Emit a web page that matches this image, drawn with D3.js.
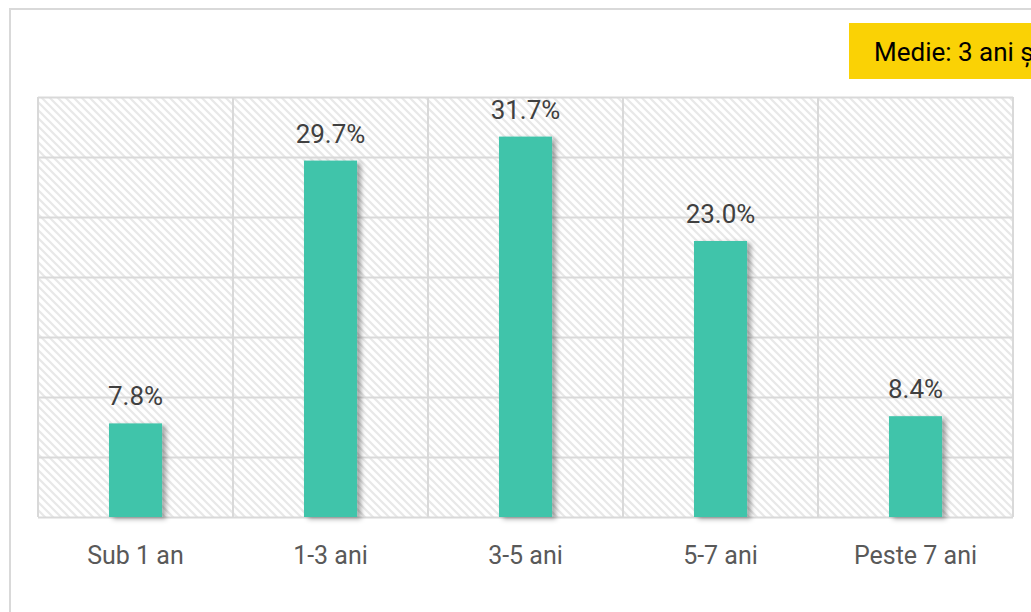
<!DOCTYPE html>
<html lang="ro">
<head>
<meta charset="UTF-8">
<title>Vechime</title>
<script src="https://d3js.org/d3.v7.min.js"></script>
<style>
  body { margin: 0; padding: 0; background: #ffffff; overflow: hidden; }
  svg { display: block; font-family: Roboto, 'Noto Sans', sans-serif; }
</style>
</head>
<body>
<svg id="chart" width="1031" height="612"></svg>
<script>
// data
const categories = ["Sub 1 an", "1-3 ani", "3-5 ani", "5-7 ani", "Peste 7 ani"];
const values = [7.8, 29.7, 31.7, 23.0, 8.4];
const yTicks = [0, 5, 10, 15, 20, 25, 30, 35];
const noteText = "Medie: 3 ani și";

const svg = d3.select("#chart");
const W = +svg.attr("width"), H = +svg.attr("height");
const plot = { left: 38, right: 1013, top: 97, bottom: 517 };

const defs = svg.append("defs");

// light diagonal hatch
const pat = defs.append("pattern")
  .attr("id", "hatch")
  .attr("patternUnits", "userSpaceOnUse")
  .attr("width", 8).attr("height", 8);
pat.append("rect").attr("width", 8).attr("height", 8).attr("fill", "#ffffff");
pat.append("path")
  .attr("d", "M-2,-2 L10,10 M-2,6 L2,10 M6,-2 L10,2")
  .attr("stroke", "#e8e8e8")
  .attr("stroke-width", 2.2);

const shadow = defs.append("filter")
  .attr("id", "shadow")
  .attr("x", "-20%").attr("y", "-10%")
  .attr("width", "150%").attr("height", "130%");
shadow.append("feDropShadow")
  .attr("dx", 4).attr("dy", 2)
  .attr("stdDeviation", 2.5)
  .attr("flood-color", "#000")
  .attr("flood-opacity", 0.35);

// outer frame
svg.append("rect")
  .attr("x", 10).attr("y", 9)
  .attr("width", W + 20).attr("height", H + 20)
  .attr("fill", "#ffffff")
  .attr("stroke", "#d9d9d9")
  .attr("stroke-width", 2);

const x = d3.scaleBand()
  .domain(categories)
  .range([plot.left, plot.right])
  .paddingInner(0).paddingOuter(0);

const y = d3.scaleLinear()
  .domain([0, d3.max(yTicks)])
  .range([plot.bottom, plot.top]);

// plot background
svg.append("rect")
  .attr("x", plot.left).attr("y", plot.top)
  .attr("width", plot.right - plot.left)
  .attr("height", plot.bottom - plot.top)
  .attr("fill", "url(#hatch)");

// horizontal gridlines
svg.append("g")
  .attr("transform", "translate(" + plot.left + ",0)")
  .call(d3.axisLeft(y).tickValues(yTicks).tickSize(-(plot.right - plot.left)).tickFormat(""))
  .call(g => g.select(".domain").remove())
  .call(g => g.selectAll("line").attr("stroke", "#d9d9d9").attr("stroke-width", 2));

// vertical gridlines at category boundaries
const bounds = categories.map(c => x(c)).concat([plot.right]);
svg.append("g")
  .selectAll("line")
  .data(bounds)
  .enter().append("line")
  .attr("x1", d => d).attr("x2", d => d)
  .attr("y1", plot.top).attr("y2", plot.bottom)
  .attr("stroke", "#d9d9d9")
  .attr("stroke-width", 2);

// bars
const barW = x.bandwidth() * 0.272;
svg.append("g")
  .selectAll("rect")
  .data(values)
  .enter().append("rect")
  .attr("x", (d, i) => x(categories[i]) + x.bandwidth() / 2 - barW / 2)
  .attr("y", d => y(d))
  .attr("width", barW)
  .attr("height", d => y(0) - y(d))
  .attr("fill", "#3fc4aa")
  .attr("filter", "url(#shadow)");

// data labels
svg.append("g")
  .selectAll("text")
  .data(values)
  .enter().append("text")
  .attr("x", (d, i) => x(categories[i]) + x.bandwidth() / 2)
  .attr("y", d => y(d) - 18)
  .attr("text-anchor", "middle")
  .attr("fill", "#404040")
  .style("font-size", "26px")
  .text(d => d.toFixed(1) + "%");

// category labels
svg.append("g")
  .selectAll("text")
  .data(categories)
  .enter().append("text")
  .attr("x", d => x(d) + x.bandwidth() / 2)
  .attr("y", 564)
  .attr("text-anchor", "middle")
  .attr("fill", "#595959")
  .style("font-size", "25px")
  .text(d => d);

// yellow note box
svg.append("rect")
  .attr("x", 849).attr("y", 23)
  .attr("width", 260).attr("height", 56)
  .attr("fill", "#fad205");
svg.append("text")
  .attr("x", 874).attr("y", 61)
  .attr("fill", "#000000")
  .style("font-size", "26px")
  .text(noteText);
</script>
</body>
</html>
